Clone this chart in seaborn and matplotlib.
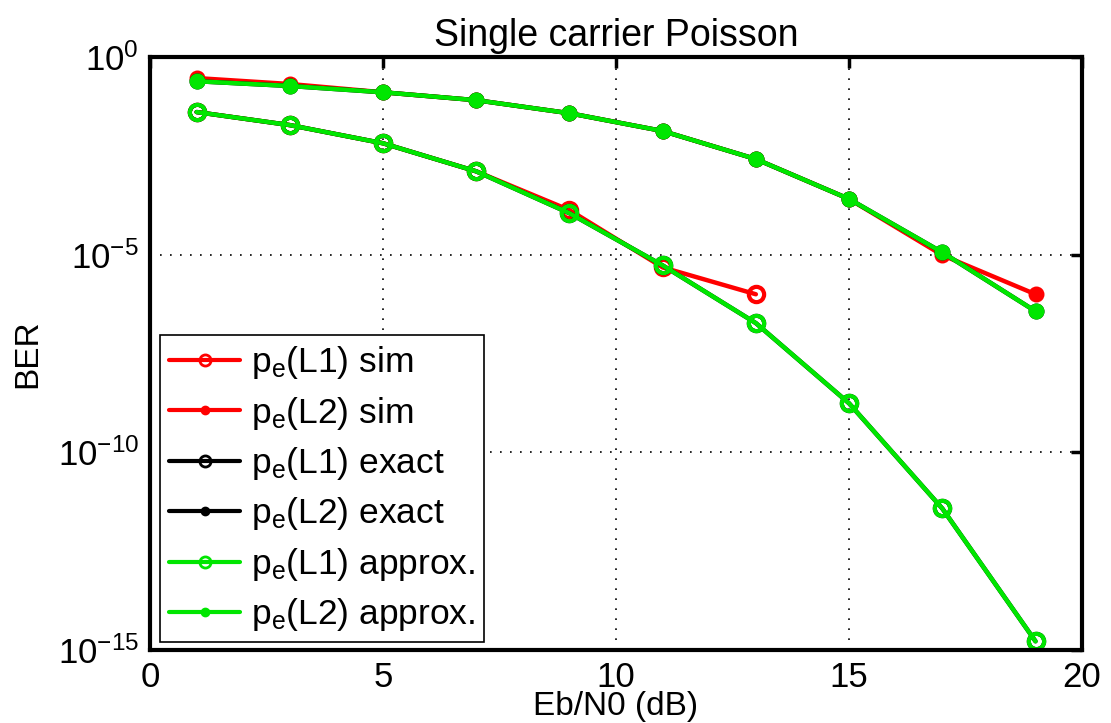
import numpy as np
import pandas as pd
import matplotlib
matplotlib.use("Agg")
import matplotlib.pyplot as plt
import seaborn as sns
from matplotlib.ticker import FixedLocator, NullLocator, FixedFormatter

sns.set_style("white")
plt.rcParams['font.family'] = ['Liberation Sans', 'DejaVu Sans']
plt.rcParams['mathtext.fontset'] = 'custom'
plt.rcParams['mathtext.rm'] = 'Liberation Sans'
plt.rcParams['mathtext.it'] = 'Liberation Sans'
for k in ['text.color', 'axes.labelcolor', 'xtick.color', 'ytick.color']:
    plt.rcParams[k] = 'black'

ebn0 = [1, 3, 5, 7, 9, 11, 13, 15, 17, 19]

# log10(BER)
l1_sim_exp = [-1.39, -1.72, -2.18, -2.89, -3.87, -5.32, -6.00]
l2_sim_exp = [-0.53, -0.68, -0.89, -1.09, -1.42, -1.87, -2.58, -3.59, -5.01, -6.00]
l1_exact_exp = [-1.39, -1.72, -2.18, -2.89, -3.95, -5.27, -6.73, -8.76, -11.42, -14.78]
l2_exact_exp = [-0.61, -0.73, -0.89, -1.09, -1.42, -1.87, -2.58, -3.59, -4.94, -6.43]
l1_approx_exp = [-1.39, -1.72, -2.18, -2.89, -3.95, -5.27, -6.73, -8.76, -11.42, -14.78]
l2_approx_exp = [-0.61, -0.73, -0.89, -1.09, -1.42, -1.87, -2.58, -3.59, -4.94, -6.43]

labels = [r'$\mathregular{p_e}$(L1) sim', r'$\mathregular{p_e}$(L2) sim',
          r'$\mathregular{p_e}$(L1) exact', r'$\mathregular{p_e}$(L2) exact',
          r'$\mathregular{p_e}$(L1) approx.', r'$\mathregular{p_e}$(L2) approx.']
colors = ['#ff0000', '#ff0000', '#000000', '#000000', '#00e600', '#00e600']
series = [l1_sim_exp, l2_sim_exp, l1_exact_exp, l2_exact_exp, l1_approx_exp, l2_approx_exp]
kinds = ['open', 'filled', 'open', 'filled', 'open', 'filled']
ytick_vals = [1e-15, 1e-10, 1e-5, 1e0]
ytick_labels = [r'$\mathregular{10^{-15}}$', r'$\mathregular{10^{-10}}$',
                r'$\mathregular{10^{-5}}$', r'$\mathregular{10^{0}}$']

fig = plt.figure(figsize=(11.11, 7.23), dpi=100)
ax = fig.add_axes([0.135, 0.101, 0.839, 0.820])

for lab, col, ser, kind in zip(labels, colors, series, kinds):
    df = pd.DataFrame({'x': ebn0[:len(ser)], 'y': 10.0 ** np.array(ser)})
    if kind == 'open':
        mk = dict(marker='o', markersize=11, markerfacecolor='none',
                  markeredgecolor=col, markeredgewidth=3)
    else:
        mk = dict(marker='o', markersize=10, markerfacecolor=col,
                  markeredgecolor=col, markeredgewidth=1.5)
    sns.lineplot(data=df, x='x', y='y', ax=ax, color=col, linewidth=3.2,
                 sort=False, label=lab, **mk)

ax.set_yscale('log')
ax.set_xlim(0, 20)
ax.set_ylim(1e-15, 1e0)
ax.set_xticks([0, 5, 10, 15, 20])
ax.yaxis.set_major_locator(FixedLocator(ytick_vals))
ax.yaxis.set_major_formatter(FixedFormatter(ytick_labels))
ax.yaxis.set_minor_locator(NullLocator())
ax.tick_params(direction='in', length=8, width=2.5, top=True, right=True,
               labelsize=25, colors='black', pad=8)
ax.grid(True, which='major', linestyle=(0, (1, 5)), color='black', linewidth=1.2)
for s in ax.spines.values():
    s.set_linewidth(3)
    s.set_color('black')

ax.set_title('Single carrier Poisson', fontsize=27, pad=8, color='black')
ax.set_xlabel('Eb/N0 (dB)', fontsize=24, labelpad=-2)
ax.set_ylabel('BER', fontsize=24, labelpad=10)

leg = ax.legend(loc='lower left', bbox_to_anchor=(0.011, 0.013), borderaxespad=0,
                fontsize=25.5, frameon=True, fancybox=False, handlelength=2.0,
                handletextpad=0.3, labelspacing=0.38, borderpad=0.25)
leg.get_frame().set_edgecolor('black')
leg.get_frame().set_linewidth(1.2)
leg.get_frame().set_alpha(1)
for t in leg.get_texts():
    t.set_color('black')
for h, kind in zip(leg.legend_handles, kinds):
    h.set_linewidth(3)
    if kind == 'open':
        h.set_markersize(8)
        h.set_markeredgewidth(2)
    else:
        h.set_markersize(6)
        h.set_markeredgewidth(1)

fig.savefig('out.png', dpi=100)
